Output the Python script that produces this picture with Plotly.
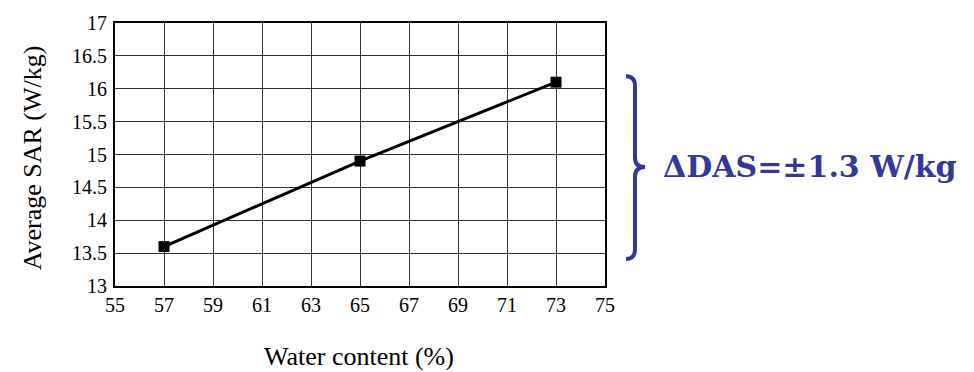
import plotly.graph_objects as go

# Measured data: average SAR versus tissue water content
water_content = [57, 65, 73]
average_sar = [13.6, 14.9, 16.1]

x_ticks = list(range(55, 76, 2))
y_ticks = [13, 13.5, 14, 14.5, 15, 15.5, 16, 16.5, 17]

W, H = 974, 372
L, R, T, B = 115, 369, 14, 86
PW, PH = W - L - R, H - T - B


def px(xp, yp):
    """Convert page pixel position to paper coordinates."""
    return (xp - L) / PW, (H - B - yp) / PH


def brace_path(x0, xv, xt, ytop, ymid, ybot, r=10):
    def P(a, b):
        xx, yy = px(a, b)
        return f"{xx:.5f},{yy:.5f}"
    return (
        f"M {P(x0, ytop)} Q {P(xv, ytop)} {P(xv, ytop + r)} "
        f"L {P(xv, ymid - r)} Q {P(xv, ymid)} {P(xt, ymid)} "
        f"Q {P(xv, ymid)} {P(xv, ymid + r)} "
        f"L {P(xv, ybot - r)} Q {P(xv, ybot)} {P(x0, ybot)}"
    )


serif = "Liberation Serif, Times New Roman, serif"
brace_color = "#35379b"
title_font = dict(family=serif, size=26, color="black")

fig = go.Figure()
fig.add_trace(go.Scatter(
    x=water_content, y=average_sar,
    mode="lines+markers",
    line=dict(color="black", width=3),
    marker=dict(symbol="square", size=11, color="black"),
    showlegend=False,
))

axis_common = dict(
    showgrid=True, gridcolor="#333333", gridwidth=1,
    showline=True, linecolor="black", linewidth=2, mirror=True,
    ticks="", zeroline=False,
    tickfont=dict(family=serif, size=20, color="black"),
)

fig.update_xaxes(
    range=[55, 75], tickvals=x_ticks, ticktext=[str(v) for v in x_ticks],
    ticklabelstandoff=0,
    **axis_common,
)
fig.update_yaxes(
    range=[13, 17], tickvals=y_ticks, ticktext=[f"{v:g}" for v in y_ticks],
    ticklabelstandoff=2,
    **axis_common,
)

# Axis titles
tx, ty = px(359, 359)
fig.add_annotation(xref="paper", yref="paper", x=tx, y=ty, xanchor="center", yanchor="middle",
                   text="Water content (%)", showarrow=False, font=title_font)
tx, ty = px(32, 154)
fig.add_annotation(xref="paper", yref="paper", x=tx, y=ty, xanchor="center", yanchor="middle",
                   text="Average SAR (W/kg)", showarrow=False, textangle=-90, font=title_font)

# Brace and the spread label
fig.add_shape(
    type="path", xref="paper", yref="paper",
    path=brace_path(626, 635, 645, 69, 163, 258),
    line=dict(color=brace_color, width=4),
)

ax, ay = px(661, 162)
fig.add_annotation(
    xref="paper", yref="paper", x=ax, y=ay, xanchor="left", yanchor="middle",
    text="<b>ΔDAS=±1.3 W/kg</b>", showarrow=False,
    font=dict(family="DejaVu Serif, serif", size=30, color=brace_color),
)

fig.update_layout(
    width=W, height=H,
    margin=dict(l=L, r=R, t=T, b=B),
    plot_bgcolor="white", paper_bgcolor="white",
)

fig.write_html("out.html")
